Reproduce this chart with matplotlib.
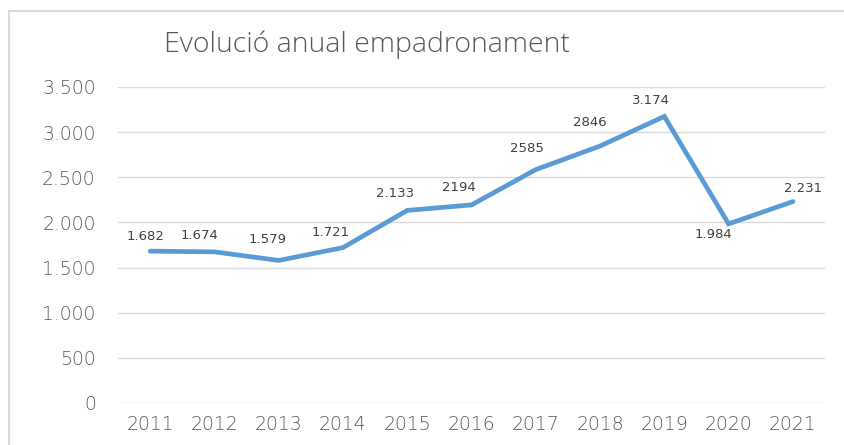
import matplotlib
matplotlib.use("Agg")
import matplotlib.pyplot as plt
from matplotlib.patches import Rectangle

years = ["2011", "2012", "2013", "2014", "2015", "2016", "2017", "2018", "2019", "2020", "2021"]
values = [1682, 1674, 1579, 1721, 2133, 2194, 2585, 2846, 3174, 1984, 2231]
value_labels = ["1.682", "1.674", "1.579", "1.721", "2.133", "2194", "2585", "2846", "3.174", "1.984", "2.231"]
yticks = [0, 500, 1000, 1500, 2000, 2500, 3000, 3500]
ytick_labels = ["0", "500", "1.000", "1.500", "2.000", "2.500", "3.000", "3.500"]
title = "Evolució anual empadronament"

# label placement (pixel offsets of label centre from the point; layout only)
label_dx = [-5, -15, -11, -12, -12, -13, -9, -10, -13, -15, 10]
label_dy = [15, 16, 21, 15, 17, 17, 21, 24, 16, -11, 13]

W, H = 845, 445
fig = plt.figure(figsize=(W / 100, H / 100), dpi=100)
plt.rcParams["font.family"] = ["DejaVu Sans"]

# chart frame
fig.patches.append(Rectangle((9 / W, -0.1), 1.2, (H - 11) / H + 0.1, transform=fig.transFigure,
                             fill=False, edgecolor="#d9d9d9", linewidth=1.5))

ax = fig.add_axes([118 / W, 42 / H, (825 - 118) / W, (403 - 87) / H])
x = list(range(len(years)))
ax.plot(x, values, color="#5b9bd5", linewidth=3.4, solid_joinstyle="miter", solid_capstyle="round", zorder=3)

ax.set_xlim(-0.5, len(years) - 0.5)
ax.set_ylim(0, 3500)
ax.set_yticks(yticks)
ax.set_yticklabels(ytick_labels)
ax.set_xticks(x)
ax.set_xticklabels(years)
ax.grid(axis="y", color="#d9d9d9", linewidth=1)
ax.set_axisbelow(True)
for s in ax.spines.values():
    s.set_visible(False)
ax.tick_params(axis="both", length=0, labelsize=13.5, labelcolor="#595959")
for t in ax.get_xticklabels() + ax.get_yticklabels():
    t.set_fontweight("light")
ax.tick_params(axis="y", pad=16)
ax.tick_params(axis="x", pad=9)

px = 72 / 100
for xi, v, lab, dx, dy in zip(x, values, value_labels, label_dx, label_dy):
    ax.annotate(lab, (xi, v), xytext=(dx * px, dy * px), textcoords="offset points",
                ha="center", va="center", fontsize=9.5, color="#404040")

fig.text(367 / W, (H - 45) / H, title, ha="center", va="center", fontsize=20.5,
         color="#595959", family=["Open Sans", "DejaVu Sans"], fontweight="light")

fig.savefig("out.png", dpi=100)
